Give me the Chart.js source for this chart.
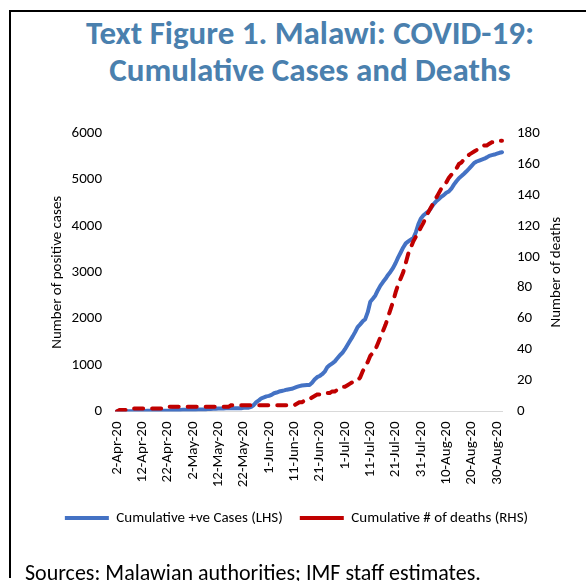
<!DOCTYPE html>
<html lang="en">

<head>
  <meta charset="UTF-8" />
  <meta name="viewport" content="width=device-width, initial-scale=1.0" />
  <title>Malawi: COVID-19 Cumulative Cases and Deaths</title>
  <script src="https://cdn.jsdelivr.net/npm/chart.js"></script>
  <style>
    html,
    body {
      margin: 0;
      padding: 0;
      background: #fff;
    }

    body {
      position: relative;
      width: 586px;
      height: 581px;
      overflow: hidden;
      font-family: Carlito, Lato, sans-serif;
    }

    .frame {
      position: absolute;
      left: 9px;
      top: 10px;
      width: 600px;
      height: 566px;
      border-left: 2px solid #000;
      border-top: 2px solid #000;
    }

    .title {
      position: absolute;
      left: 9px;
      top: 15px;
      width: 602px;
      text-align: center;
      color: #4a80ae;
      font-weight: bold;
      font-size: 33px;
      line-height: 37px;
    }

    .chart-box {
      position: absolute;
      left: 0;
      top: 0;
      width: 586px;
      height: 581px;
    }

    .sources {
      position: absolute;
      left: 25px;
      top: 562px;
      font-size: 22px;
      line-height: 22px;
      color: #000;
      white-space: nowrap;
    }
  </style>
</head>

<body>
  <div class="frame"></div>
  <div class="title">Text Figure 1. Malawi: COVID-19:<br />Cumulative Cases and Deaths</div>
  <div class="chart-box">
    <canvas id="chartCovid"></canvas>
  </div>
  <div class="sources">Sources: Malawian authorities; IMF staff estimates.</div>

  <script>
    // daily categories, 2-Apr-20 through 1-Sep-20
    const firstDay = new Date(2020, 3, 2);
    const lastDay = new Date(2020, 8, 1);
    const monthNames = ["Jan", "Feb", "Mar", "Apr", "May", "Jun", "Jul", "Aug", "Sep", "Oct", "Nov", "Dec"];

    // cumulative confirmed cases (left axis)
    const cases = [
      3, 3, 4, 4, 5, 5, 8, 9, 12, 12,                                   // 2-Apr
      13, 13, 16, 16, 16, 16, 17, 17, 17, 17,                           // 12-Apr
      18, 23, 33, 33, 33, 34, 36, 36, 37, 38,                           // 22-Apr
      38, 39, 41, 41, 43, 43, 56, 56, 57, 57,                           // 2-May
      63, 65, 65, 70, 70, 70, 70, 70, 71, 72,                           // 12-May
      82, 83, 83, 101, 140, 203, 240, 284, 303, 326,                    // 22-May
      336, 358, 393, 409, 430, 443, 455, 470, 481, 489,                 // 1-Jun
      509, 529, 547, 560, 566, 572, 573, 620, 690, 740,                 // 11-Jun
      765, 803, 858, 951, 1000, 1038, 1080, 1146, 1213, 1265,           // 21-Jun
      1342, 1432, 1524, 1613, 1710, 1818, 1877, 1942, 1990, 2140,       // 1-Jul
      2364, 2430, 2501, 2614, 2712, 2789, 2858, 2942, 3012, 3094,       // 11-Jul
      3200, 3320, 3425, 3534, 3621, 3664, 3703, 3738, 3863, 4040,       // 21-Jul
      4160, 4227, 4272, 4312, 4384, 4467, 4528, 4575, 4624, 4662,       // 31-Jul
      4712, 4740, 4800, 4888, 4961, 5026, 5072, 5122, 5175, 5231,       // 10-Aug
      5292, 5355, 5386, 5407, 5427, 5447, 5474, 5508, 5524, 5536,       // 20-Aug
      5555, 5573, 5585                                                  // 30-Aug
    ];

    // cumulative deaths (right axis)
    const deaths = [
      0, 1, 1, 1, 1, 1, 2, 2, 2, 2,
      2, 2, 2, 2, 2, 2, 2, 2, 2, 3,
      3, 3, 3, 3, 3, 3, 3, 3, 3, 3,
      3, 3, 3, 3, 3, 3, 3, 3, 3, 3,
      3, 3, 3, 3, 3, 4, 4, 4, 4, 4,
      4, 4, 4, 4, 4, 4, 4, 4, 4, 4,
      4, 4, 4, 4, 4, 4, 4, 4, 4, 4,
      4, 5, 6, 6, 7, 7, 8, 9, 10, 11,
      11, 11, 12, 12, 12, 13, 13, 14, 15, 16,
      16, 17, 18, 19, 19, 20, 22, 26, 29, 32,
      36, 38, 40, 44, 48, 52, 56, 61, 66, 71,
      77, 82, 86, 90, 96, 102, 106, 110, 113, 116,
      119, 122, 126, 129, 132, 135, 138, 141, 144, 146,
      148, 151, 153, 155, 157, 160, 161, 163, 164, 166,
      167, 168, 169, 170, 171, 172, 172, 173, 174, 174,
      175, 175, 175
    ];

    const leftTicks = [0, 1000, 2000, 3000, 4000, 5000, 6000];
    const rightTicks = [0, 20, 40, 60, 80, 100, 120, 140, 160, 180];
    const tickEvery = 10; // one date label every 10 days

    const dates = [];
    for (let d = new Date(firstDay); d <= lastDay; d.setDate(d.getDate() + 1)) {
      dates.push(`${d.getDate()}-${monthNames[d.getMonth()]}-20`);
    }

    const fontChart = "Carlito, Lato, sans-serif";
    Chart.defaults.font.family = fontChart;
    Chart.defaults.font.size = 15;
    Chart.defaults.color = "#000";

    // right-hand axis title reads bottom-to-top like the left one
    const rightTitle = {
      id: "rightTitle",
      afterDraw(chart) {
        const ctx = chart.ctx;
        const area = chart.chartArea;
        const scale = chart.scales.y2;
        ctx.save();
        ctx.translate(scale.right - 22, (area.top + area.bottom) / 2);
        ctx.rotate(-Math.PI / 2);
        ctx.font = `15px ${fontChart}`;
        ctx.fillStyle = "#000";
        ctx.textAlign = "center";
        ctx.textBaseline = "middle";
        ctx.fillText("Number of deaths", 0, 0);
        ctx.restore();
      },
    };

    new Chart(document.getElementById("chartCovid"), {
      type: "line",
      data: {
        labels: dates,
        datasets: [
          {
            label: "Cumulative +ve Cases (LHS)",
            data: cases,
            yAxisID: "y",
            borderColor: "#4472c4",
            backgroundColor: "#4472c4",
            borderWidth: 4,
            borderJoinStyle: "round",
            borderCapStyle: "round",
            pointRadius: 0,
            pointStyle: "line",
            tension: 0,
            order: 1,
          },
          {
            label: "Cumulative # of deaths (RHS)",
            data: deaths,
            yAxisID: "y2",
            borderColor: "#c00000",
            backgroundColor: "#c00000",
            borderWidth: 4,
            borderDash: [9, 9],
            borderCapStyle: "round",
            pointRadius: 0,
            pointStyle: "line",
            tension: 0,
            order: 0,
          },
        ],
      },
      options: {
        responsive: true,
        maintainAspectRatio: false,
        animation: false,
        layout: {
          padding: { left: 15, right: 8, top: 133, bottom: 45.5 },
        },
        plugins: {
          tooltip: { enabled: false },
          legend: {
            position: "bottom",
            labels: {
              usePointStyle: true,
              pointStyleWidth: 44,
              boxWidth: 44,
              padding: 17,
              color: "#000",
              sort: (a, b) => a.datasetIndex - b.datasetIndex,
            },
          },
        },
        scales: {
          x: {
            grid: { display: false, drawTicks: false },
            border: { display: true, color: "#d9d9d9", width: 1 },
            ticks: {
              autoSkip: false,
              minRotation: 90,
              maxRotation: 90,
              padding: 10,
              callback: function (value, index) {
                return index % tickEvery === 0 ? this.getLabelForValue(value) : null;
              },
            },
            afterFit: (scale) => { scale.height = 82; },
          },
          y: {
            position: "left",
            min: leftTicks[0],
            max: leftTicks[leftTicks.length - 1],
            grid: { display: false, drawTicks: false },
            border: { display: false },
            ticks: {
              stepSize: leftTicks[1] - leftTicks[0],
              padding: 15,
              callback: (value) => String(value),
            },
            title: {
              display: true,
              text: "Number of positive cases",
              padding: { top: 33, bottom: 0 },
            },
            afterFit: (scale) => { scale.width = 102; },
          },
          y2: {
            position: "right",
            min: rightTicks[0],
            max: rightTicks[rightTicks.length - 1],
            grid: { display: false, drawTicks: false },
            border: { display: false },
            ticks: {
              stepSize: rightTicks[1] - rightTicks[0],
              padding: 15,
              callback: (value) => String(value),
            },
            afterFit: (scale) => { scale.width = 76; },
          },
        },
      },
      plugins: [rightTitle],
    });
  </script>
</body>

</html>
